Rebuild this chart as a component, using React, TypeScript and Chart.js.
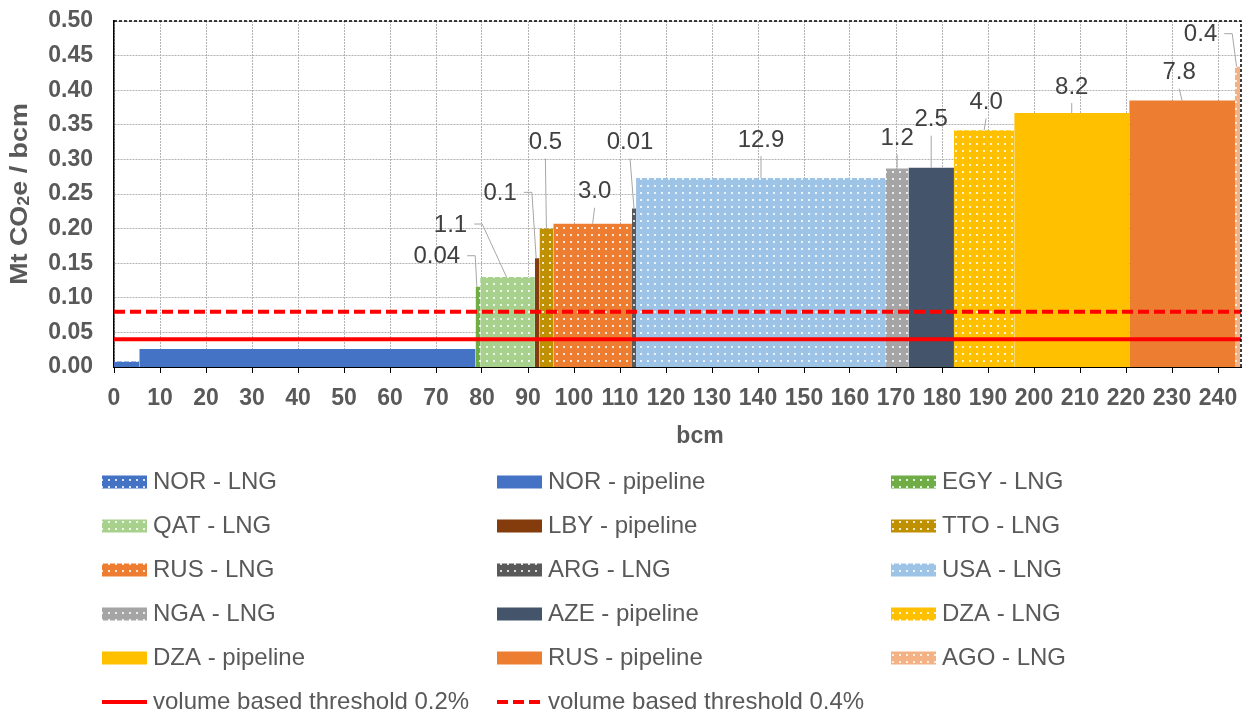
import React, { useEffect, useRef } from 'react';
import { Chart, registerables } from 'chart.js';

Chart.register(...registerables);

// ---------- data ----------
const categories = [
  'NOR - LNG', 'NOR - pipeline', 'EGY - LNG', 'QAT - LNG', 'LBY - pipeline',
  'TTO - LNG', 'RUS - LNG', 'ARG - LNG', 'USA - LNG', 'NGA - LNG',
  'AZE - pipeline', 'DZA - LNG', 'DZA - pipeline', 'RUS - pipeline', 'AGO - LNG',
];
// bar widths: volume (bcm)
const volumes = [5.5, 73.1, 1.0, 11.9, 1.0, 3.0, 17.1, 0.9, 54.3, 4.9, 9.9, 13.1, 25.0, 23.0, 1.1];
// bar heights: intensity (Mt CO2e / bcm)
const intensities = [0.008, 0.026, 0.116, 0.130, 0.157, 0.200, 0.207, 0.229, 0.273, 0.287, 0.288, 0.342, 0.367, 0.385, 0.434];
// data labels
const emissionLabels: (string | null)[] = [null, null, '0.04', '1.1', '0.1', '0.5', '3.0', '0.01', '12.9', '1.2', '2.5', '4.0', '8.2', '7.8', '0.4'];
const thresholdNames = ['volume based threshold 0.2%', 'volume based threshold 0.4%'];
const thresholdValues = [0.04, 0.08];
const xTicks = [0, 10, 20, 30, 40, 50, 60, 70, 80, 90, 100, 110, 120, 130, 140, 150, 160, 170, 180, 190, 200, 210, 220, 230, 240];
const yTicks = [0, 0.05, 0.1, 0.15, 0.2, 0.25, 0.3, 0.35, 0.4, 0.45, 0.5];
const xMax = 245;

// ---------- styles ----------
const colors = ['#4472C4', '#4472C4', '#70AD47', '#A9D18E', '#843C0C', '#BF9000', '#ED7D31', '#595959', '#9DC3E6', '#A5A5A5', '#44546A', '#FFC000', '#FFC000', '#ED7D31', '#F4B183'];
const dotted = [true, false, true, true, false, true, true, true, true, true, false, true, false, false, true];
// label placement relative to bar top centre (px), leader style
const labelOffsets: [number, number][] = [
  [0, 0], [0, 0], [-41, -30], [-57, -52], [-37, -65], [-1, -86], [2, -32], [-4, -66],
  [0, -38], [0, -30], [0, -48], [2, -28], [0, -26], [-3, -28], [-37, -32],
];
const leaderKinds = ['v', 'v', 'h', 'h', 'h', 'v', 'v', 'v', 'v', 'v', 'v', 'v', 'v', 'v', 'h'];

const FAMILY = '"Liberation Sans", Arial, sans-serif';
const GRAY = '#595959';

function makePattern(color: string): CanvasPattern | string {
  const c = document.createElement('canvas');
  c.width = 7;
  c.height = 7;
  const g = c.getContext('2d');
  if (!g) return color;
  g.fillStyle = color;
  g.fillRect(0, 0, 7, 7);
  g.fillStyle = 'rgba(255,255,255,0.8)';
  g.fillRect(3, 3, 2, 2);
  const p = g.createPattern(c, 'repeat');
  return p || color;
}

function makeOverlay(pats: (CanvasPattern | string)[]) {
  return {
    id: 'overlay',
    afterDatasetsDraw(chart: any) {
      const { ctx, chartArea: a, scales } = chart;
      const x = scales.x;
      const y = scales.y;
      // dashed top & right border
      ctx.save();
      ctx.strokeStyle = '#000';
      ctx.lineWidth = 1.5;
      ctx.setLineDash([3, 2]);
      ctx.beginPath();
      ctx.moveTo(a.left, a.top);
      ctx.lineTo(a.right, a.top);
      ctx.lineTo(a.right, a.bottom);
      ctx.stroke();
      ctx.restore();

      // data labels with leader lines
      ctx.save();
      ctx.font = `24px ${FAMILY}`;
      ctx.textAlign = 'center';
      ctx.textBaseline = 'middle';
      let start = 0;
      for (let i = 0; i < categories.length; i++) {
        const x0 = start;
        const x1 = start + volumes[i];
        start = x1;
        const text = emissionLabels[i];
        if (!text) continue;
        const xc = x.getPixelForValue((x0 + x1) / 2);
        const top = y.getPixelForValue(intensities[i]);
        const [dx, dy] = labelOffsets[i];
        const tx = xc + dx;
        const ty = top + dy;
        ctx.fillStyle = '#404040';
        ctx.fillText(text, tx, ty);
        ctx.strokeStyle = '#A6A6A6';
        ctx.lineWidth = 1;
        ctx.beginPath();
        if (leaderKinds[i] === 'h') {
          const w = ctx.measureText(text).width;
          const sx = tx + w / 2 + 7;
          ctx.moveTo(sx, ty - 1);
          ctx.lineTo(sx + 8, ty - 1);
          ctx.lineTo(xc - 1, top);
        } else {
          ctx.moveTo(tx, ty + 16);
          ctx.lineTo(xc, top);
        }
        ctx.stroke();
      }
      ctx.restore();
    },
    afterDraw(chart: any) {
      const { ctx, chartArea: a } = chart;

      // y title with subscript
      ctx.save();
      ctx.fillStyle = GRAY;
      ctx.textBaseline = 'middle';
      ctx.textAlign = 'left';
      ctx.translate(20, (a.top + a.bottom) / 2);
      ctx.rotate(-Math.PI / 2);
      ctx.scale(1.12, 1);
      const big = `bold 24px ${FAMILY}`;
      const small = `bold 16px ${FAMILY}`;
      const parts: [string, string, number][] = [['Mt CO', big, 0], ['2', small, 5], ['e / bcm', big, 0]];
      let total = 0;
      parts.forEach(([t, f]) => { ctx.font = f; total += ctx.measureText(t).width; });
      let px = -total / 2;
      parts.forEach(([t, f, off]) => {
        ctx.font = f;
        ctx.fillText(t, px, off);
        px += ctx.measureText(t).width;
      });
      ctx.restore();

      // x title
      ctx.save();
      ctx.fillStyle = GRAY;
      ctx.font = `bold 23px ${FAMILY}`;
      ctx.textAlign = 'center';
      ctx.textBaseline = 'middle';
      ctx.fillText('bcm', 700, 437);
      ctx.restore();

      // legend (3 columns)
      const colX = [102, 497, 891];
      const rowY = [482, 526, 570, 614, 658, 702];
      const items = [
        ...categories.map((name, i) => ({ name, kind: 'box', fill: pats[i] as any, dash: [] as number[] })),
        ...thresholdNames.map((name, i) => ({ name, kind: 'line', fill: '#FF0000' as any, dash: i === 1 ? [11, 5] : [] })),
      ];
      ctx.save();
      ctx.font = `24px ${FAMILY}`;
      ctx.textBaseline = 'middle';
      ctx.textAlign = 'left';
      items.forEach((it, k) => {
        const cx = colX[k % 3];
        const cy = rowY[Math.floor(k / 3)];
        if (it.kind === 'box') {
          ctx.fillStyle = it.fill;
          ctx.fillRect(cx, cy - 6.5, 45, 13);
        } else {
          ctx.strokeStyle = it.fill;
          ctx.lineWidth = 4;
          ctx.setLineDash(it.dash);
          ctx.beginPath();
          ctx.moveTo(cx, cy);
          ctx.lineTo(cx + 45, cy);
          ctx.stroke();
          ctx.setLineDash([]);
        }
        ctx.fillStyle = GRAY;
        ctx.fillText(it.name, cx + 51, cy);
      });
      ctx.restore();
    },
  };
}

export default function App() {
  const ref = useRef<HTMLCanvasElement | null>(null);

  useEffect(() => {
    document.body.style.margin = '0';
    const canvas = ref.current;
    if (!canvas) return;
    const patterns = categories.map((_, i) => (dotted[i] ? makePattern(colors[i]) : colors[i]));

    let start = 0;
    const barSets = categories.map((name, i) => {
      const x0 = start;
      const x1 = start + volumes[i];
      start = x1;
      return {
        type: 'line' as const,
        label: name,
        data: [{ x: x0, y: intensities[i] }, { x: x1, y: intensities[i] }],
        backgroundColor: patterns[i],
        borderColor: 'rgba(0,0,0,0)',
        borderWidth: 0,
        fill: 'origin',
        pointRadius: 0,
        pointHoverRadius: 0,
        tension: 0,
        order: 2,
      };
    });
    const lineSets = thresholdNames.map((name, i) => ({
      type: 'line' as const,
      label: name,
      data: [{ x: 0, y: thresholdValues[i] }, { x: xMax, y: thresholdValues[i] }],
      borderColor: '#FF0000',
      backgroundColor: '#FF0000',
      borderWidth: 4,
      borderDash: i === 1 ? [11, 5] : [],
      fill: false,
      pointRadius: 0,
      pointHoverRadius: 0,
      order: 0,
    }));

    const tickFont = { family: FAMILY, size: 23, weight: 'bold' as const };
    const chart = new Chart(canvas, {
      type: 'line',
      data: { datasets: [...barSets, ...lineSets] as any },
      options: {
        animation: false,
        responsive: false,
        devicePixelRatio: 1,
        events: [],
        layout: { padding: { left: 48, right: 9, top: 21, bottom: 302 } },
        plugins: { legend: { display: false }, tooltip: { enabled: false } },
        scales: {
          x: {
            type: 'linear',
            min: 0,
            max: xMax,
            afterBuildTicks: (s: any) => { s.ticks = xTicks.map((v) => ({ value: v })); },
            afterFit: (s: any) => { s.height = 44; s.paddingLeft = 0; s.paddingRight = 0; },
            ticks: { font: tickFont, color: GRAY, padding: 12, maxRotation: 0, minRotation: 0, autoSkip: false },
            grid: { color: '#B3B3B3', lineWidth: 1, drawTicks: true, tickLength: 6, tickColor: '#000', tickWidth: 1 },
            border: { display: true, color: '#000', width: 1, dash: [2, 1] },
          },
          y: {
            type: 'linear',
            min: 0,
            max: 0.5,
            afterBuildTicks: (s: any) => { s.ticks = yTicks.map((v) => ({ value: v })); },
            afterFit: (s: any) => { s.width = 66; s.paddingTop = 0; s.paddingBottom = 0; },
            ticks: { font: tickFont, color: GRAY, padding: 21, callback: (v: any) => Number(v).toFixed(2) },
            grid: { color: '#B3B3B3', lineWidth: 1, drawTicks: false },
            border: { display: true, color: '#000', width: 1.5, dash: [2, 1] },
          },
        },
      },
      plugins: [makeOverlay(patterns)],
    } as any);

    return () => chart.destroy();
  }, []);

  return (
    <div style={{ position: 'fixed', left: 0, top: 0, width: 1250, height: 713, background: '#fff' }}>
      <canvas ref={ref} width={1250} height={713} style={{ display: 'block' }} />
    </div>
  );
}
